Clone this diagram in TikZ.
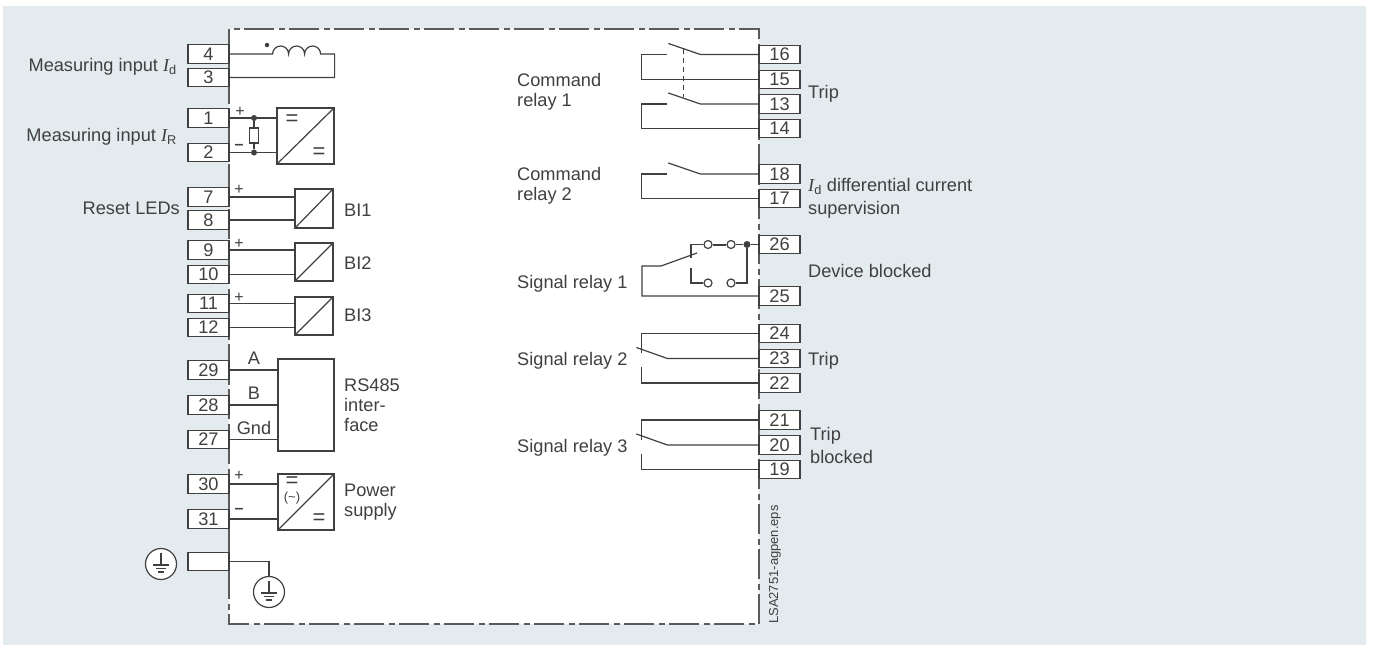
\documentclass[tikz,border=0pt]{standalone}
\usepackage{fontspec}
\setmainfont{Liberation Sans}
\newfontfamily\serifletter{Liberation Serif}
\newcommand{\cur}[1]{{\serifletter\itshape I}\textsubscript{#1}}
\definecolor{panelblue}{HTML}{E3EBEF}
\definecolor{inkgray}{HTML}{404040}
\definecolor{framegray}{HTML}{5A5A5A}
\tikzset{
  wire/.style={draw=inkgray,line width=1.2pt},
  termbox/.style={draw=inkgray,line width=1.2pt,fill=white,minimum width=41,minimum height=18.5,inner sep=0pt,text=inkgray,font=\fontsize{18.2}{20}\selectfont},
  convbox/.style={draw=inkgray,line width=1.2pt,fill=white,inner sep=0pt},
  lab/.style={inner sep=0pt,text=inkgray,align=left,font=\fontsize{18.2}{20}\selectfont},
  eqsign/.style={inner sep=0pt,text=inkgray,font=\fontsize{22}{22}\selectfont},
  sign/.style={inner sep=0pt,text=inkgray,font=\fontsize{16}{16}\selectfont},
  opencontact/.style={circle,draw=inkgray,line width=1.2pt,fill=white,minimum size=8,inner sep=0pt},
  junction/.style={circle,fill=inkgray,minimum size=#1,inner sep=0pt},
  gndring/.style={circle,draw=inkgray,line width=1.2pt,fill=white,minimum size=31,inner sep=0pt,
    path picture={\draw[wire] (path picture bounding box.center) ++(0,-11) -- ++(0,12) ++(-8,0) -- ++(16,0) ++(-13,3.5) -- ++(10,0) ++(-8,3.5) -- ++(6,0);}},
}
\begin{document}
\begin{tikzpicture}[x=1pt,y=-1pt]
\useasboundingbox (0,0) rectangle (1373,645);
\fill[panelblue] (3,6) rectangle (1366,645);
% housing
\fill[white] (229,29) rectangle (759,624);
\draw[framegray,line width=1.4pt,dash pattern=on 30pt off 4.5pt on 6pt off 4.5pt] (229,29) rectangle (759,624);
% terminals
\foreach \n/\y in {4/54,3/77.5,1/118,2/152.5,7/197,8/220,9/250,10/274.5,11/303.5,12/327.5,29/370,28/405,27/439.5,30/484,31/519}
  \node[termbox] (t\n) at (208.5,\y) {\n};
\node[termbox] (tg) at (208.5,561.5) {};
\foreach \n/\y in {16/54.5,15/79.5,13/104,14/128.5,18/174,17/198.5,26/244.5,25/296,24/333.5,23/358.5,22/383,21/420,20/445,19/469.5}
  \node[termbox] (t\n) at (779.5,\y) {\n};
% left side blocks
\draw[wire] (t4.east) -- ++(43,0) arc[start angle=180,end angle=360,radius=8] arc[start angle=180,end angle=360,radius=8] arc[start angle=180,end angle=360,radius=8] -- ++(14,0) |- (t3.east);
\node[junction=4.5] (coildot) at (267,45) {};
\node[convbox,minimum width=57,minimum height=56] (dc) at (305.5,136) {};
\node[convbox,minimum width=38,minimum height=39] (bi1) at (314,208.5) {};
\node[convbox,minimum width=38,minimum height=38] (bi2) at (314,262) {};
\node[convbox,minimum width=38,minimum height=38] (bi3) at (314,316) {};
\node[convbox,minimum width=56,minimum height=92] (rs) at (306,405) {};
\node[convbox,minimum width=56,minimum height=56] (psu) at (306,502) {};
\foreach \a/\b in {1/dc,2/dc,7/bi1,8/bi1,9/bi2,10/bi2,11/bi3,12/bi3,29/rs,28/rs,27/rs,30/psu,31/psu}
  \draw[wire] (t\a.east) -- (t\a.east -| \b.west);
\foreach \b in {dc,bi1,bi2,bi3,psu}
  \draw[wire] (\b.south west) -- (\b.north east);
\node[junction=6] (j1) at (254,118) {};
\node[junction=6] (j2) at (254,152.5) {};
\node[draw=inkgray,line width=1.2pt,fill=white,minimum width=8.5,minimum height=15,inner sep=0pt] (shunt) at (254,135.5) {};
\draw[wire] (j1) -- (shunt) (shunt) -- (j2);
\node[sign] (p1) at (240,112) {+};
\node[sign] (m1) at (239,147) {\textbf{–}};
\node[sign] (p7) at (239,190) {+};
\node[sign] (p9) at (239,244) {+};
\node[sign] (p11) at (239,298) {+};
\node[sign] (p30) at (239,476) {+};
\node[sign] (m31) at (239,511) {\textbf{–}};
\node[eqsign] (eq1) at (292,120) {=};
\node[eqsign] (eq2) at (319,153) {=};
\node[eqsign] (eq3) at (292,482) {=};
\node[sign,font=\fontsize{13}{13}\selectfont] (eq4) at (292,498) {(\char`~)};
\node[eqsign] (eq5) at (319,519) {=};
\node[lab] (la) at (254,358) {A};
\node[lab] (lb) at (254,393) {B};
\node[lab] (lg) at (254,428) {Gnd};
% ground
\node[gndring] (g1) at (161,564) {};
\node[gndring] (g2) at (269,592) {};
\draw[wire] (tg.east) -| (g2.north);
% relays
\foreach \a/\b in {16/15,13/14,18/17}{
  \draw[wire] (t\a.west) -- ++(-58,0) -- ++(-32,-11);
  \coordinate (k\a) at ([xshift=-91pt]t\a.west);
  \draw[wire] (k\a) -- ++(-26,0) |- (t\b.west);
}
\coordinate (link1) at (683,49);
\coordinate (link2) at (683,97);
\draw[inkgray,line width=0.9pt,dash pattern=on 5pt off 4pt] (link1) -- (link2);
\foreach \a/\b/\c in {24/23/22,21/20/19}{
  \draw[wire] (t\a.west) -- ++(-117,0) -- ++(0,19.5);
  \draw[wire] (t\b.west) -- ++(-91,0) -- ++(-31,-11);
  \coordinate (k\c) at ([shift={(-117,8.5)}]t\b.west);
  \draw[wire] (k\c) |- (t\c.west);
}
% signal relay 1
\node[junction=7] (s0) at (747,244.5) {};
\node[opencontact] (s1) at (731,244.5) {};
\node[opencontact] (s2) at (708,244.5) {};
\node[opencontact] (s3) at (708,283) {};
\node[opencontact] (s4) at (731,283) {};
\coordinate (arm1) at (697,253);
\coordinate (arm2) at (661,266);
\coordinate (bar1) at (691,258);
\coordinate (bar2) at (691,268);
\draw[wire] (t26.west) -- (s0) -- (s1);
\draw[wire,line width=2pt] (s1) -- (s2);
\draw[wire] (s2) -| (bar1);
\draw[wire] (bar2) |- (s3);
\draw[wire] (s4) -| (s0);
\draw[wire] (arm1) -- (arm2) -- ++(-19,0) |- (t25.west);
% labels
\node[lab,anchor=east] (lid) at (177,67) {Measuring input \cur{d}};
\node[lab,anchor=east] (lir) at (177,137) {Measuring input \cur{R}};
\node[lab,anchor=east] (lreset) at (180,208) {Reset LEDs};
\node[lab,anchor=west] (lb1) at (344,210) {BI1};
\node[lab,anchor=west] (lb2) at (344,263) {BI2};
\node[lab,anchor=west] (lb3) at (344,315) {BI3};
\node[lab,anchor=west] (lrs) at (344,405) {RS485\\inter-\\face};
\node[lab,anchor=west] (lpow) at (344,502) {Power\\supply};
\node[lab,anchor=west] (lc1) at (517,92) {Command\\relay 1};
\node[lab,anchor=west] (lc2) at (517,186) {Command\\relay 2};
\node[lab,anchor=west] (ls1) at (517,284) {Signal relay 1};
\node[lab,anchor=west] (ls2) at (517,361) {Signal relay 2};
\node[lab,anchor=west] (ls3) at (517,448) {Signal relay 3};
\node[lab,anchor=west] (ltrip) at (808,94) {Trip};
\node[lab,anchor=west] (lsup) at (808,198) {\cur{d} differential current\\[3pt]supervision};
\node[lab,anchor=west] (lblk) at (808,271) {Device blocked};
\node[lab,anchor=west] (ltrip2) at (808,361) {Trip};
\node[lab,anchor=west] (ltb) at (810,445) {Trip\\[3pt]blocked};
\node[inner sep=0pt,text=inkgray,font=\fontsize{13}{14}\selectfont,rotate=90,anchor=west] (fname) at (775,624) {LSA2751-agpen.eps};
\end{tikzpicture}
\end{document}
